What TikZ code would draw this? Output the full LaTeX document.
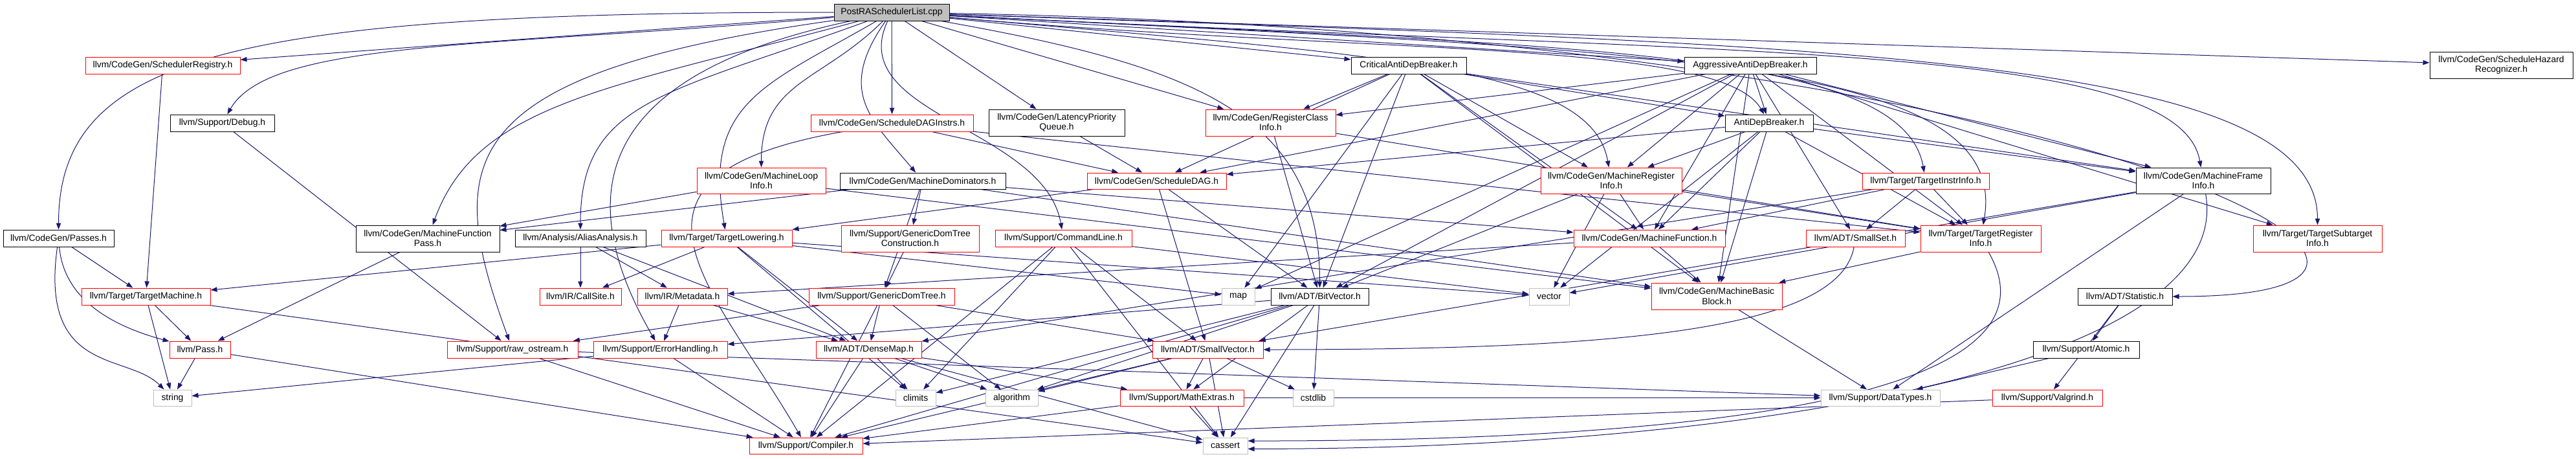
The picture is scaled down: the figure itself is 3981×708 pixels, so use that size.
\documentclass[tikz,border=0pt]{standalone}
\usepackage{fontspec}
\setmainfont{Liberation Sans}
\usetikzlibrary{arrows.meta, backgrounds}
\definecolor{depblue}{RGB}{25, 25, 112}
\definecolor{sysgray}{RGB}{191, 191, 191}
\definecolor{hdrred}{RGB}{255, 0, 0}

\begin{document}
\begin{tikzpicture}[x=0.75pt, y=-0.75pt,
    every node/.style={font=\fontsize{10.4}{11.3}\selectfont, align=center,
                       inner sep=0pt, fill=white, line width=0.75pt},
    box/.style 2 args={minimum width=#1*0.75pt, minimum height=#2*0.75pt},
    hdr/.style={draw=black},
    redhdr/.style={draw=hdrred},
    sys/.style={draw=sysgray},
    src/.style={draw=black, fill=sysgray},
    dep/.style={draw=depblue, line width=0.75pt,
                -{Triangle[length=7.5pt, width=5.5pt]}}]
  \useasboundingbox (0,0) rectangle (3981,708);

  % Source file
  \node[src, box={178}{26}] (root) at (1378,19) {PostRASchedulerList.cpp};

  % Direct includes
  \node[redhdr, box={239}{26}] (sreg) at (251.5,101) {llvm/CodeGen/SchedulerRegistry.h};
  \node[hdr, box={178}{26}] (critical) at (2177,101) {CriticalAntiDepBreaker.h};
  \node[hdr, box={204}{26}] (aggressive) at (2705,101) {AggressiveAntiDepBreaker.h};
  \node[hdr, box={221}{41}] (hazard) at (3865.5,100.5) {llvm/CodeGen/ScheduleHazard\\Recognizer.h};
  \node[hdr, box={161}{26}] (debug) at (343.5,190) {llvm/Support/Debug.h};
  \node[redhdr, box={251}{26}] (sdaginstrs) at (1378.5,190) {llvm/CodeGen/ScheduleDAGInstrs.h};
  \node[hdr, box={210}{41}] (latency) at (1633,189.5) {llvm/CodeGen/LatencyPriority\\Queue.h};
  \node[redhdr, box={201}{41}] (regclass) at (1963.5,189.5) {llvm/CodeGen/RegisterClass\\Info.h};
  \node[hdr, box={136}{26}] (antidep) at (2734,190) {AntiDepBreaker.h};
  \node[redhdr, box={199}{40}] (mloop) at (1176.5,279) {llvm/CodeGen/MachineLoop\\Info.h};
  \node[hdr, box={256}{25}] (mdom) at (1426,279.5) {llvm/CodeGen/MachineDominators.h};
  \node[redhdr, box={215}{25}] (sdag) at (1787.5,279.5) {llvm/CodeGen/ScheduleDAG.h};
  \node[redhdr, box={218}{40}] (mreginfo) at (2490,279) {llvm/CodeGen/MachineRegister\\Info.h};
  \node[redhdr, box={196}{25}] (tinstr) at (2976,279.5) {llvm/Target/TargetInstrInfo.h};
  \node[hdr, box={208}{40}] (mframe) at (3405,279) {llvm/CodeGen/MachineFrame\\Info.h};

  % Middle rows
  \node[hdr, box={171}{26}] (passes) at (90.5,368) {llvm/CodeGen/Passes.h};
  \node[hdr, box={222}{41}] (mfpass) at (661,368.5) {llvm/CodeGen/MachineFunction\\Pass.h};
  \node[hdr, box={202}{26}] (alias) at (897,368) {llvm/Analysis/AliasAnalysis.h};
  \node[redhdr, box={202}{26}] (tlower) at (1123,368) {llvm/Target/TargetLowering.h};
  \node[redhdr, box={213}{41}] (gdtc) at (1406.5,368.5) {llvm/Support/GenericDomTree\\Construction.h};
  \node[redhdr, box={211}{26}] (cmdline) at (1643.5,368) {llvm/Support/CommandLine.h};
  \node[redhdr, box={234}{26}] (mfunc) at (2549,368) {llvm/CodeGen/MachineFunction.h};
  \node[redhdr, box={153}{26}] (smallset) at (2867.5,368) {llvm/ADT/SmallSet.h};
  \node[redhdr, box={186}{41}] (treginfo) at (3061,368.5) {llvm/Target/TargetRegister\\Info.h};
  \node[redhdr, box={199}{41}] (tsubtarget) at (3581.5,368.5) {llvm/Target/TargetSubtarget\\Info.h};

  \node[redhdr, box={199}{26}] (tmach) at (225.5,458) {llvm/Target/TargetMachine.h};
  \node[redhdr, box={126}{26}] (callsite) at (897,458) {llvm/IR/CallSite.h};
  \node[redhdr, box={139}{26}] (metadata) at (1054.5,458) {llvm/IR/Metadata.h};
  \node[redhdr, box={225}{26}] (gdt) at (1362.5,458) {llvm/Support/GenericDomTree.h};
  \node[sys, box={51}{26}] (map) at (1913.5,458) {map};
  \node[hdr, box={151}{26}] (bitvec) at (2039.5,458) {llvm/ADT/BitVector.h};
  \node[sys, box={62}{26}] (vector) at (2394,458) {vector};
  \node[redhdr, box={202}{41}] (mbb) at (2653,457.5) {llvm/CodeGen/MachineBasic\\Block.h};
  \node[hdr, box={146}{26}] (statistic) at (3284,458) {llvm/ADT/Statistic.h};

  \node[redhdr, box={94}{26}] (pass) at (309,540) {llvm/Pass.h};
  \node[redhdr, box={202}{26}] (rawos) at (792,540) {llvm/Support/raw\_ostream.h};
  \node[redhdr, box={207}{26}] (errh) at (1020.5,540) {llvm/Support/ErrorHandling.h};
  \node[redhdr, box={163}{26}] (densemap) at (1342.5,540) {llvm/ADT/DenseMap.h};
  \node[redhdr, box={171}{26}] (smallvec) at (1866.5,540) {llvm/ADT/SmallVector.h};
  \node[hdr, box={164}{26}] (atomic) at (3224,540) {llvm/Support/Atomic.h};

  % Bottom rows
  \node[sys, box={59}{25}] (string) at (266.5,614.5) {string};
  \node[sys, box={62}{25}] (climits) at (1415,614.5) {climits};
  \node[sys, box={81}{25}] (algorithm) at (1563.5,614.5) {algorithm};
  \node[redhdr, box={191}{25}] (mathext) at (1826.5,614.5) {llvm/Support/MathExtras.h};
  \node[sys, box={63}{25}] (cstdlib) at (2029.5,614.5) {cstdlib};
  \node[sys, box={184}{25}] (datatypes) at (2906,614.5) {llvm/Support/DataTypes.h};
  \node[redhdr, box={170}{25}] (valgrind) at (3164,614.5) {llvm/Support/Valgrind.h};
  \node[redhdr, box={175}{25}] (compiler) at (1245.5,688.5) {llvm/Support/Compiler.h};
  \node[sys, box={69}{25}] (cassert) at (1893.5,688.5) {cassert};

  \begin{scope}[on background layer]
    % Includes of the source file
    \draw[dep] (root.180) .. controls +(180:700pt) and +(90:200pt) .. (passes.90);
    \draw[dep] (root) -- (sreg);
    \draw[dep] (root.185) .. controls +(185:400pt) and +(60:100pt) .. (debug.60);
    \draw[dep] (root.188) .. controls +(188:450pt) and +(110:220pt) .. (rawos.110);
    \draw[dep] (root.192) .. controls +(192:300pt) and +(120:200pt) .. (errh.120);
    \draw[dep] (root.195) .. controls +(195:300pt) and +(70:150pt) .. (mfpass.70);
    \draw[dep] (root.200) .. controls +(200:250pt) and +(90:150pt) .. (alias.90);
    \draw[dep] (root.210) .. controls +(210:150pt) and +(100:150pt) .. (tlower.100);
    \draw[dep] (root.225) .. controls +(225:100pt) and +(90:100pt) .. (mloop.90);
    \draw[dep] (root.235) .. controls +(235:100pt) and +(130:80pt) .. (mdom.130);
    \draw[dep] (root.245) .. controls +(245:120pt) and +(100:120pt) .. (cmdline.100);
    \draw[dep] (root) -- (sdaginstrs);
    \draw[dep] (root) -- (latency);
    \draw[dep] (root) -- (regclass);
    \draw[dep] (root) -- (critical);
    \draw[dep] (root) -- (aggressive);
    \draw[dep] (root.355) .. controls +(355:500pt) and +(120:100pt) .. (antidep.120);
    \draw[dep] (root.350) .. controls +(350:300pt) and +(90:200pt) .. (bitvec.90);
    \draw[dep] (root.355) .. controls +(355:500pt) and +(100:120pt) .. (mreginfo.100);
    \draw[dep] (root.357) .. controls +(357:700pt) and +(100:150pt) .. (tinstr.100);
    \draw[dep] (root.357) .. controls +(357:800pt) and +(80:200pt) .. (treginfo.80);
    \draw[dep] (root.357) .. controls +(357:900pt) and +(100:150pt) .. (mframe.100);
    \draw[dep] (root.358) .. controls +(358:1000pt) and +(90:200pt) .. (tsubtarget.90);
    \draw[dep] (root.359) .. controls +(359:1300pt) and +(0:450pt) .. (statistic.0);
    \draw[dep] (root) -- (hazard);

    % Includes between headers
    \foreach \s/\t in {sreg/tmach, debug/rawos, passes/tmach, tmach/pass,
        tmach/string, tmach/cassert, pass/string,
        pass/compiler, mfpass/pass, alias/callsite, alias/metadata,
        alias/densemap, metadata/errh, metadata/densemap, rawos/compiler,
        rawos/datatypes, errh/string, errh/compiler, tlower/tmach,
        tlower/callsite, tlower/climits, tlower/densemap, tlower/map,
        tlower/vector, gdtc/gdt, cmdline/climits, cmdline/compiler,
        cmdline/cassert, cmdline/smallvec, cmdline/vector, gdt/rawos,
        gdt/compiler, gdt/densemap, gdt/algorithm, gdt/smallvec,
        bitvec/climits, bitvec/algorithm, bitvec/cstdlib, bitvec/cassert,
        bitvec/compiler, bitvec/errh, bitvec/mathext, densemap/climits,
        densemap/algorithm, densemap/compiler, densemap/cassert,
        densemap/mathext, smallvec/algorithm, smallvec/compiler,
        smallvec/mathext, smallvec/cassert, smallvec/cstdlib,
        mathext/compiler, mathext/cassert, mathext/datatypes,
        valgrind/compiler, atomic/datatypes, statistic/atomic,
        statistic/valgrind, treginfo/mbb, mbb/datatypes, mfunc/mbb,
        mfunc/metadata, tinstr/treginfo, tinstr/mfunc, tinstr/smallset,
        tinstr/densemap, mreginfo/mfunc, mreginfo/bitvec, mreginfo/vector,
        mreginfo/treginfo, antidep/mreginfo, antidep/mbb, antidep/mframe,
        antidep/treginfo, antidep/vector, antidep/sdag, antidep/mfunc,
        critical/antidep, critical/regclass, critical/mreginfo,
        critical/bitvec, critical/mfunc, critical/mbb, critical/mframe,
        critical/sdag, critical/map, aggressive/antidep, aggressive/bitvec,
        aggressive/mbb, aggressive/mframe, aggressive/mfunc,
        aggressive/mreginfo, aggressive/sdag, aggressive/treginfo,
        aggressive/map, aggressive/smallset, aggressive/tsubtarget,
        aggressive/regclass, mframe/datatypes, mframe/vector,
        mframe/smallvec, sdag/bitvec, sdag/smallvec, sdag/tlower, mdom/gdt,
        mdom/gdtc, mdom/mfpass, mdom/mfunc, mdom/mbb, mloop/mfpass,
        mloop/mbb, regclass/bitvec, regclass/treginfo, sdaginstrs/sdag,
        sdaginstrs/treginfo, latency/sdag}
      \draw[dep] (\s) -- (\t);

    % Long detours
    \draw[dep] (passes.275) .. controls +(275:60pt) and +(165:70pt) .. (pass.165);
    \draw[dep] (passes.262) .. controls +(262:150pt) and +(135:60pt) .. (string.135);
    \draw[dep] (sdaginstrs.190) .. controls +(190:300pt) and +(120:200pt) .. (compiler.120);
    \draw[dep] (treginfo.300) .. controls +(300:200pt) and +(0:500pt) .. (cassert.12);
    \draw[dep] (mframe.280) .. controls +(280:200pt) and +(0:600pt) .. (cassert.352);
    \draw[dep] (smallset.260) .. controls +(260:100pt) and +(0:400pt) .. (smallvec.0);
  \end{scope}
\end{tikzpicture}
\end{document}
